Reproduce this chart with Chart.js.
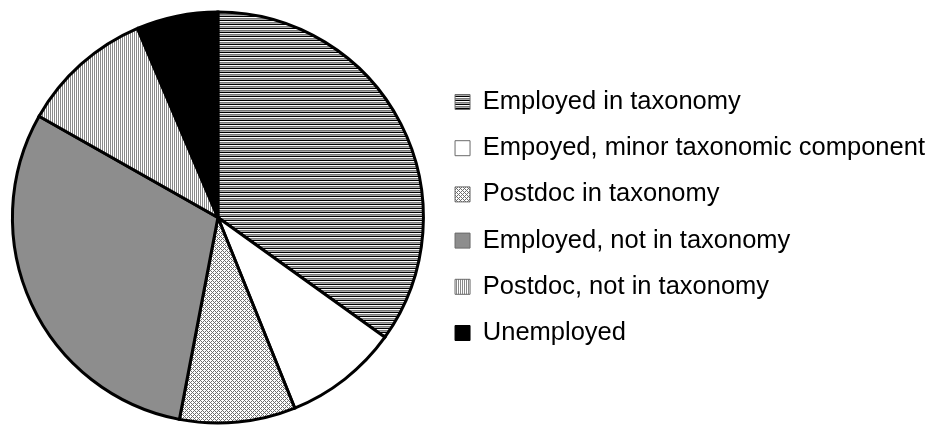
<!DOCTYPE html>
<html>
<head>
<meta charset="utf-8">
<script src="https://cdn.jsdelivr.net/npm/chart.js@4.4.1/dist/chart.umd.min.js"></script>
<style>
  html, body { margin: 0; padding: 0; background: #fff; }
  #wrap { width: 935px; height: 427px; }
</style>
</head>
<body>
<div id="wrap"><canvas id="pie"></canvas></div>
<script>
// datos (porcentaje aprox.)
const categories = [
    'Employed in taxonomy',
    'Empoyed, minor taxonomic component',
    'Postdoc in taxonomy',
    'Employed, not in taxonomy',
    'Postdoc, not in taxonomy',
    'Unemployed'
];
const shares = [34.9, 9.0, 9.1, 30.2, 10.4, 6.4];

// ===== PATRONES DE RELLENO =====
function makePattern(w, h, paint) {
    const c = document.createElement('canvas');
    c.width = w;
    c.height = h;
    const g = c.getContext('2d');
    g.fillStyle = '#ffffff';
    g.fillRect(0, 0, w, h);
    paint(g);
    return g.createPattern(c, 'repeat');
}

// rayas horizontales
const hStripes = makePattern(4, 4, g => {
    g.fillStyle = '#000000';
    g.fillRect(0, 0, 4, 1);
    g.fillStyle = '#7a7a7a';
    g.fillRect(0, 2, 4, 1);
    g.fillStyle = '#a8a8a8';
    g.fillRect(0, 3, 4, 1);
});

// rombos finos
const checker = makePattern(4, 4, g => {
    g.fillStyle = '#6e6e6e';
    for (let x = 0; x < 4; x++) {
        for (let y = 0; y < 4; y++) {
            if ((x + y) % 4 === 0 || (x - y + 4) % 4 === 0) g.fillRect(x, y, 1, 1);
        }
    }
});

// rayas verticales
const vStripes = makePattern(2, 2, g => {
    g.fillStyle = '#8a8a8a';
    g.fillRect(0, 0, 1, 2);
});

const fills = [hStripes, '#ffffff', checker, '#8d8d8d', vStripes, '#000000'];

Chart.defaults.color = '#000000';
Chart.defaults.font.family = "'Liberation Sans', Arial, sans-serif";

new Chart(document.getElementById('pie'), {
    type: 'pie',
    data: {
        labels: categories,
        datasets: [{
            data: shares,
            backgroundColor: fills,
            borderColor: '#000000',
            borderWidth: 3,
            borderJoinStyle: 'miter'
        }]
    },
    options: {
        responsive: true,
        maintainAspectRatio: false,
        animation: false,
        layout: {
            padding: { left: 1.5, right: 0, top: 10.5, bottom: 2.5 }
        },
        plugins: {
            tooltip: { enabled: false },
            legend: {
                position: 'right',
                maxWidth: 560,
                labels: {
                    boxWidth: 15,
                    boxHeight: 15,
                    padding: 20.7,
                    font: { size: 25.5 },
                    generateLabels: function (chart) {
                        const items = Chart.overrides.pie.plugins.legend.labels.generateLabels(chart);
                        items.forEach((it, i) => {
                            it.lineWidth = 1;
                            it.strokeStyle = i === 5 ? '#000000' : '#6a6a6a';
                        });
                        return items;
                    }
                }
            }
        }
    }
});
</script>
</body>
</html>
